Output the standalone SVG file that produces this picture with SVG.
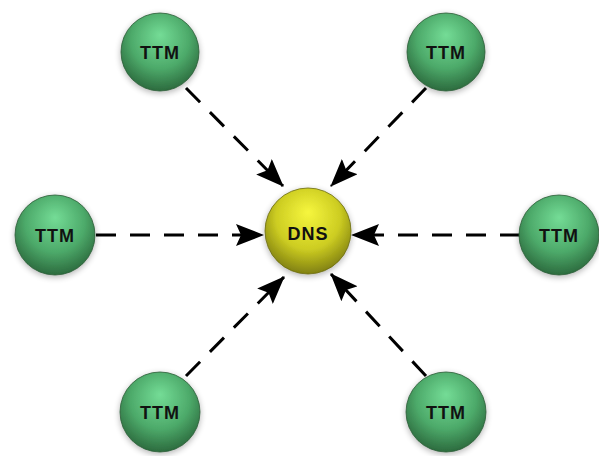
<svg xmlns="http://www.w3.org/2000/svg" width="599" height="456" viewBox="0 0 599 456">
<defs>
<radialGradient id="gGreen" cx="0.5" cy="0.38" r="0.62" fx="0.5" fy="0.28">
<stop offset="0" stop-color="#74dc96"/>
<stop offset="0.6" stop-color="#4daa6a"/>
<stop offset="1" stop-color="#2c6b3e"/>
</radialGradient>
<radialGradient id="gYellow" cx="0.5" cy="0.38" r="0.62" fx="0.5" fy="0.28">
<stop offset="0" stop-color="#f6f63e"/>
<stop offset="0.6" stop-color="#cdcd22"/>
<stop offset="1" stop-color="#808010"/>
</radialGradient>
<filter id="sh" x="-30%" y="-30%" width="160%" height="160%">
<feGaussianBlur in="SourceAlpha" stdDeviation="3"/>
<feOffset dx="0" dy="2" result="b"/>
<feComponentTransfer><feFuncA type="linear" slope="0.3"/></feComponentTransfer>
<feMerge><feMergeNode/><feMergeNode in="SourceGraphic"/></feMerge>
</filter>
<marker id="ah" viewBox="0 0 28 22" refX="27" refY="11" markerWidth="28" markerHeight="22" markerUnits="userSpaceOnUse" orient="auto">
<path d="M0,0 L28,11 L0,22 L5,11 Z" fill="#000"/>
</marker>
</defs>
<style>
.conn{stroke:#000;stroke-width:3;stroke-dasharray:20 14;fill:none;marker-end:url(#ah)}
.ttm{fill:url(#gGreen);stroke:#2a5a35;stroke-width:0.8;filter:url(#sh)}
.dns{fill:url(#gYellow);stroke:#6a6a10;stroke-width:0.8;filter:url(#sh)}
.lbl{font-family:"Liberation Sans",Arial,sans-serif;font-weight:bold;font-size:18px;letter-spacing:1px;fill:#111;text-anchor:middle;dominant-baseline:central}
</style>
<g id="connectors">
<line class="conn" x1="186" y1="88" x2="283" y2="186"/>
<line class="conn" x1="426" y1="88" x2="331" y2="186"/>
<line class="conn" x1="96" y1="235" x2="263" y2="235"/>
<line class="conn" x1="520" y1="235" x2="352" y2="235"/>
<line class="conn" x1="186" y1="376" x2="284" y2="277"/>
<line class="conn" x1="426" y1="376" x2="331" y2="274"/>
</g>
<g id="ttm1"><circle class="ttm" cx="160" cy="52" r="39"/><text class="lbl" x="160" y="53">TTM</text></g>
<g id="ttm2"><circle class="ttm" cx="446" cy="52" r="39"/><text class="lbl" x="446" y="53">TTM</text></g>
<g id="ttm3"><circle class="ttm" cx="55" cy="235" r="40"/><text class="lbl" x="55" y="236">TTM</text></g>
<g id="ttm4"><circle class="ttm" cx="559" cy="235" r="40"/><text class="lbl" x="559" y="236">TTM</text></g>
<g id="ttm5"><circle class="ttm" cx="160" cy="412" r="40"/><text class="lbl" x="160" y="413">TTM</text></g>
<g id="ttm6"><circle class="ttm" cx="446" cy="412" r="40"/><text class="lbl" x="446" y="413">TTM</text></g>
<g id="dns"><circle class="dns" cx="308" cy="231" r="43"/><text class="lbl" x="308" y="234">DNS</text></g>
</svg>
